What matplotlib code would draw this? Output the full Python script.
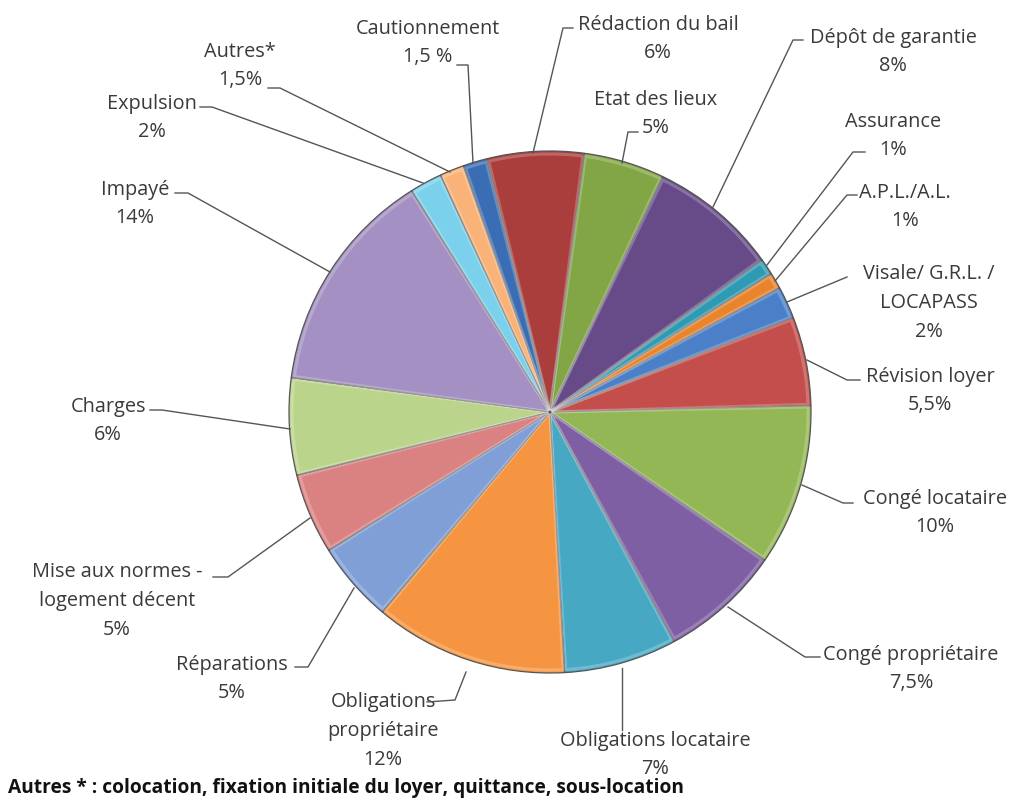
import matplotlib.pyplot as plt
from matplotlib.patches import Wedge

W, H = 1014, 809

# Données (ordre des secteurs, sens horaire depuis Cautionnement)
categories = ['Cautionnement', 'Rédaction du bail', 'Etat des lieux', 'Dépôt de garantie',
              'Assurance', 'A.P.L./A.L.', 'Visale/ G.R.L. /\nLOCAPASS', 'Révision loyer',
              'Congé locataire', 'Congé propriétaire', 'Obligations locataire',
              'Obligations\npropriétaire', 'Réparations', 'Mise aux normes -\nlogement décent',
              'Charges', 'Impayé', 'Expulsion', 'Autres*']
values = [1.5, 6, 5, 8, 1, 1, 2, 5.5, 10, 7.5, 7, 12, 5, 5, 6, 14, 2, 1.5]
pct_labels = ['1,5 %', '6%', '5%', '8%', '1%', '1%', '2%', '5,5%', '10%', '7,5%', '7%',
              '12%', '5%', '5%', '6%', '14%', '2%', '1,5%']
colors = ['#3B6DB4', '#A93E3C', '#82A646', '#664B88', '#2F9AB4', '#E9842C',
          '#4B80C9', '#C44E4B', '#94B755', '#7E5FA4', '#47A8C4', '#F59542',
          '#809FD7', '#DA8281', '#BAD48C', '#A490C3', '#7BD1EC', '#F9B378']
footnote = 'Autres * : colocation, fixation initiale du loyer, quittance, sous-location'

# mise en page (pixels, origine en haut à gauche)
CX, CY, R = 550, 412, 261
START = 109.4
# centre du texte, puis polyligne du trait de rappel
label_pos = [(428, 43), (658, 39), (656, 114), (893, 52), (893, 136), (905, 207),
             (929, 303), (930, 391), (935, 513), (911, 669), (655, 755),
             (383, 731), (232, 679), (117, 601), (108, 421), (135, 204), (152, 118), (240, 66)]
leaders = [
    [(457, 65), (468, 65), (473, 163)],
    [(573, 28), (563, 28), (533, 153)],
    [(638, 132), (628, 132), (622, 163)],
    [(803, 40), (793, 40), (713, 207)],
    [(865, 152), (853, 152), (767, 265)],
    [(857, 195), (847, 195), (775, 281)],
    [(847, 277), (787, 302)],
    [(860, 380), (847, 380), (807, 360)],
    [(853, 503), (843, 503), (802, 485)],
    [(820, 657), (805, 657), (728, 607)],
    [(622, 730), (622, 668)],
    [(427, 702), (455, 700), (466, 672)],
    [(295, 667), (308, 667), (354, 588)],
    [(213, 577), (228, 577), (310, 518)],
    [(150, 410), (162, 410), (290, 429)],
    [(175, 193), (188, 193), (330, 272)],
    [(200, 107), (212, 107), (423, 183)],
    [(268, 88), (280, 88), (450, 172)],
]

plt.rcParams['font.family'] = ['Open Sans', 'DejaVu Sans']
TXT = '#3a3a3a'

fig = plt.figure(figsize=(W / 100, H / 100), dpi=100)
ax = fig.add_axes([0, 0, 1, 1])

wedges, _ = ax.pie(values, colors=colors, startangle=START, counterclock=False,
                   center=(CX, H - CY), radius=R,
                   wedgeprops=dict(edgecolor='#555555', linewidth=0.9))

# léger effet de biseau sur chaque secteur
for w in wedges:
    ax.add_patch(Wedge((CX, H - CY), R - 3, w.theta1 + 0.3, w.theta2 - 0.3,
                       width=R - 6, fill=False, edgecolor='white',
                       linewidth=2.2, alpha=0.22, zorder=3))

for name, pct, (tx, ty), pts in zip(categories, pct_labels, label_pos, leaders):
    ax.text(tx, H - ty, f'{name}\n{pct}', ha='center', va='center',
            fontsize=14.3, color=TXT, linespacing=1.58)
    xs = [p[0] for p in pts]
    ys = [H - p[1] for p in pts]
    ax.plot(xs, ys, color='#555555', linewidth=1.0, zorder=4)

ax.text(8, H - 788, footnote, ha='left', va='center', fontsize=13.8,
        fontweight='bold', color='#111111')

ax.set_xlim(0, W)
ax.set_ylim(0, H)
ax.set_aspect('auto')
ax.axis('off')

plt.savefig('out.png', dpi=100)
